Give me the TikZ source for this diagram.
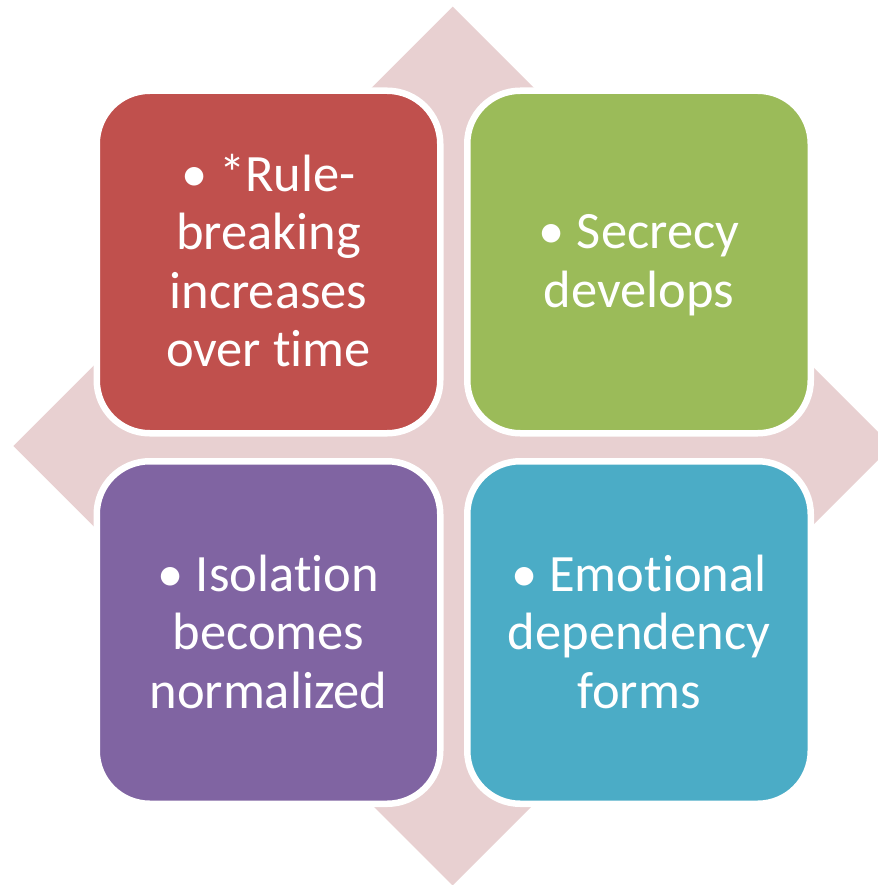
\documentclass[tikz,border=0pt]{standalone}
\usepackage{fontspec}
\setmainfont{Carlito}[Ligatures={TeX,NoCommon}]
\definecolor{bgpink}{RGB}{232,208,209}
\definecolor{cred}{RGB}{192,80,77}
\definecolor{cgreen}{RGB}{155,187,89}
\definecolor{cpurple}{RGB}{128,100,162}
\definecolor{cblue}{RGB}{75,172,198}
\newcommand{\topstrut}{\rule{0pt}{40pt}}
\newcommand{\botstrut}{\rule[-6pt]{0pt}{6pt}}
\tikzset{
  quad/.style={rectangle, rounded corners=53pt, draw=white, line width=6.5pt,
    minimum width=343.5pt, minimum height=342.5pt, inner sep=0pt,
    align=center, text=white, font=\fontsize{52.5}{58.5}\selectfont}
}
\begin{document}
\begin{tikzpicture}[x=1pt,y=-1pt]
\useasboundingbox (0,0) rectangle (877,885);
\fill[bgpink] (452.7,6.7) -- (892,446) -- (452.7,885.5) -- (13.3,446) -- cycle;
\node[quad, fill=cred] (tl) at (268.5,262) {\topstrut• *Rule-\\breaking\\increases\\over time\botstrut};
\node[quad, fill=cgreen] (tr) at (639,262) {\topstrut• Secrecy\\develops\botstrut};
\node[quad, fill=cpurple] (bl) at (268.5,632.5) {\topstrut• Isolation\\becomes\\normalized\botstrut};
\node[quad, fill=cblue] (br) at (639,632.5) {\topstrut• Emotional\\dependency\\forms\botstrut};
\end{tikzpicture}
\end{document}
